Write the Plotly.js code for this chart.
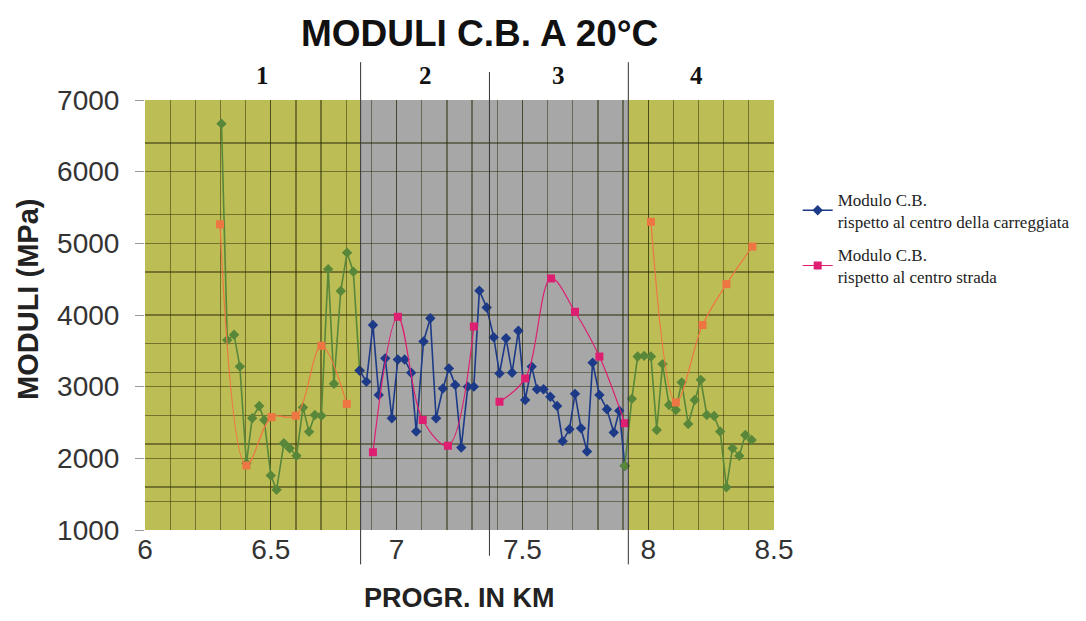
<!DOCTYPE html>
<html>
<head>
<meta charset="utf-8">
<script src="https://cdn.plot.ly/plotly-3.0.1.min.js"></script>
<style>html,body{margin:0;padding:0;background:#fff;}#chart{width:1086px;height:621px;}</style>
</head>
<body>
<div id="chart"></div>
<script>
// ---- data ----
const xCarreggiata = [6.304, 6.327, 6.354, 6.377, 6.403, 6.426, 6.454, 6.474, 6.500, 6.523,
  6.552, 6.575, 6.602, 6.628, 6.652, 6.675, 6.701, 6.728, 6.751, 6.778,
  6.803, 6.828, 6.853, 6.880, 6.906, 6.929, 6.955, 6.981, 7.005, 7.032,
  7.058, 7.078, 7.107, 7.134, 7.157, 7.184, 7.208, 7.233, 7.257, 7.283,
  7.307, 7.329, 7.358, 7.386, 7.409, 7.435, 7.459, 7.484, 7.511, 7.537,
  7.558, 7.584, 7.611, 7.638, 7.660, 7.687, 7.709, 7.733, 7.757, 7.779,
  7.806, 7.836, 7.863, 7.885, 7.907, 7.935, 7.958, 7.984, 8.011, 8.034,
  8.057, 8.083, 8.110, 8.133, 8.159, 8.185, 8.209, 8.233, 8.262, 8.286,
  8.311, 8.335, 8.362, 8.386, 8.411];
const yCarreggiata = [6670, 3650, 3725, 3280, 1930, 2560, 2730, 2535, 1760, 1560,
  2210, 2140, 2035, 2710, 2370, 2605, 2595, 4640, 3040, 4335,
  4870, 4605, 3225, 3070, 3860, 2885, 3395, 2560, 3380, 3380,
  3195, 2375, 3630, 3955, 2560, 2975, 3255, 3025, 2150, 3000,
  3000, 4340, 4105, 3690, 3185, 3675, 3195, 3780, 2815, 3280,
  2965, 2965, 2860, 2730, 2240, 2405, 2900, 2420, 2095, 3335,
  2885, 2685, 2360, 2665, 1895, 2830, 3420, 3430, 3420, 2395,
  3315, 2745, 2675, 3060, 2480, 2815, 3095, 2605, 2590, 2375,
  1595, 2140, 2035, 2325, 2255];

const xStrada = [6.298, 6.403, 6.503, 6.599, 6.701, 6.802,
  6.906, 7.005, 7.104, 7.204, 7.307,
  7.409, 7.511, 7.614, 7.709, 7.806, 7.907,
  8.011, 8.110, 8.216, 8.311, 8.414];
const yStrada = [5265, 1900, 2575, 2595, 3570, 2760,
  2085, 3975, 2535, 2175, 3840,
  2790, 3115, 4510, 4045, 3420, 2490,
  5300, 2780, 3860, 4430, 4955];

const sectionBounds = [6.857, 7.369, 7.921];     // km where sections 1|2, 2|3, 3|4 meet
const sectionNames = ['1', '2', '3', '4'];
const xTickVals = [6, 6.5, 7, 7.5, 8, 8.5];
const xTickText = ['6', '6.5', '7', '7.5', '8', '8.5'];
const yTickVals = [1000, 2000, 3000, 4000, 5000, 6000, 7000];
const yTickText = ['1000', '2000', '3000', '4000', '5000', '6000', '7000'];
const yGridExtra = [1400, 1600, 2200, 2600, 3200, 3600, 4600, 5400, 6400];

const legendCarreggiata = 'Modulo C.B.<br>rispetto al centro della carreggiata';
const legendStrada = 'Modulo C.B.<br>rispetto al centro strada';

// ---- styles ----
const YELLOW = '#bdbd56', GRAY = '#a7a7a7';
const GREEN = 'rgb(88,135,58)', BLUE = 'rgb(28,58,135)';
const ORANGE = 'rgb(238,118,66)', MAGENTA = 'rgb(222,30,112)';
const GRID = 'rgba(35,35,0,0.48)';
const b0 = sectionBounds[0], b1 = sectionBounds[1], b2 = sectionBounds[2];

function sectionOf(x) { let s = 0; sectionBounds.forEach(b => { if (x >= b) s++; }); return s; }

// carreggiata: yellow (sec 1), gray (sec 2-3), yellow (sec 4), drawn as connected pieces
function band(x) { return x < b0 ? 0 : (x < b2 ? 1 : 2); }
const cPieces = [{x: [], y: []}, {x: [], y: []}, {x: [], y: []}];
xCarreggiata.forEach((x, i) => {
  const b = band(x);
  if (b > 0 && cPieces[b].x.length === 0 && i > 0) {
    cPieces[b].x.push(xCarreggiata[i - 1]); cPieces[b].y.push(yCarreggiata[i - 1]);
  }
  cPieces[b].x.push(x); cPieces[b].y.push(yCarreggiata[i]);
});
const traces = [];
cPieces.forEach((p, b) => {
  const col = b === 1 ? BLUE : GREEN;
  traces.push({
    x: p.x, y: p.y, type: 'scatter', mode: 'lines+markers',
    line: {color: col, width: 1.6},
    marker: {color: col, size: 8, symbol: 'diamond'},
    name: legendCarreggiata, legendgroup: 'c', legendrank: 1,
    showlegend: b === 1, hoverinfo: 'x+y'
  });
});
// strada: separate section pieces
const sPieces = [0, 1, 2, 3].map(() => ({x: [], y: []}));
xStrada.forEach((x, i) => { const s = sectionOf(x); sPieces[s].x.push(x); sPieces[s].y.push(yStrada[i]); });
sPieces.forEach((p, s) => {
  const col = (s === 1 || s === 2) ? MAGENTA : ORANGE;
  traces.push({
    x: p.x, y: p.y, type: 'scatter', mode: 'lines+markers',
    line: {color: col, width: 1.2, shape: 'spline', smoothing: 1},
    marker: {color: col, size: 8, symbol: 'square'},
    name: legendStrada, legendgroup: 's', legendrank: 2,
    showlegend: s === 1, hoverinfo: 'x+y'
  });
});

const shapes = [
  {type: 'rect', xref: 'x', yref: 'paper', x0: 6, x1: b0, y0: 0, y1: 1, fillcolor: YELLOW, line: {width: 0}, layer: 'below'},
  {type: 'rect', xref: 'x', yref: 'paper', x0: b0, x1: b2, y0: 0, y1: 1, fillcolor: GRAY, line: {width: 0}, layer: 'below'},
  {type: 'rect', xref: 'x', yref: 'paper', x0: b2, x1: 8.5, y0: 0, y1: 1, fillcolor: YELLOW, line: {width: 0}, layer: 'below'},
  {type: 'line', xref: 'x', yref: 'paper', x0: b0, x1: b0, y0: -0.08, y1: 1.088, line: {color: '#333', width: 1}},
  {type: 'line', xref: 'x', yref: 'paper', x0: b1, x1: b1, y0: -0.06, y1: 1.065, line: {color: '#333', width: 1}},
  {type: 'line', xref: 'x', yref: 'paper', x0: b2, x1: b2, y0: -0.08, y1: 1.088, line: {color: '#333', width: 1}}
];

const labelX = [6.468, (b0 + b1) / 2, (b1 + b2) / 2, 8.19];
const annotations = sectionNames.map((t, i) => ({
  text: '<b>' + t + '</b>', xref: 'x', yref: 'paper', x: labelX[i], y: 1.058,
  showarrow: false, xanchor: 'center', yanchor: 'middle',
  font: {family: 'Liberation Serif, serif', size: 25, color: '#111'}
}));
annotations.push({
  text: '<b>RINFORZO</b>', xref: 'x', yref: 'paper', x: 8.83, y: 1.058,
  showarrow: false, xanchor: 'center', yanchor: 'middle',
  font: {family: 'Liberation Serif, serif', size: 18, color: '#111'}
});
annotations.push({
  text: '<b>MODULI (MPa)</b>', xref: 'paper', yref: 'paper', x: -0.186, y: 0.535,
  textangle: -90, showarrow: false, xanchor: 'center', yanchor: 'middle',
  font: {family: 'Liberation Sans, Arial, sans-serif', size: 29, color: '#222'}
});
annotations.push({
  text: '<b>PROGR. IN KM</b>', xref: 'paper', yref: 'paper', x: 0.5, y: -0.158,
  showarrow: false, xanchor: 'center', yanchor: 'middle',
  font: {family: 'Liberation Sans, Arial, sans-serif', size: 27, color: '#222'}
});

const layout = {
  width: 1086, height: 621,
  margin: {l: 145, r: 311, t: 100, b: 91},
  paper_bgcolor: '#fff', plot_bgcolor: '#fff',
  title: {
    text: '<b>MODULI C.B. A 20°C</b>', xref: 'paper', x: 0.532, xanchor: 'center',
    yref: 'container', y: 0.947, yanchor: 'middle',
    font: {family: 'Liberation Sans, Arial, sans-serif', size: 37, color: '#111'}
  },
  xaxis: {
    range: [6, 8.5], tickmode: 'array', tickvals: xTickVals, ticktext: xTickText,
    ticks: '', showline: false, zeroline: false,
    showgrid: true, gridcolor: GRID, gridwidth: 1.3,
    minor: {tick0: 6, dtick: 0.1, showgrid: true, gridcolor: GRID, gridwidth: 1.3, ticks: ''},
    tickfont: {family: 'Liberation Sans, Arial, sans-serif', size: 28, color: '#333'}
  },
  yaxis: {
    range: [1000, 7000], tickmode: 'array', tickvals: yTickVals, ticktext: yTickText,
    ticks: 'outside', ticklen: 9, tickcolor: '#999', tickwidth: 1,
    ticklabelstandoff: 10,
    showline: false, zeroline: false,
    showgrid: true, gridcolor: GRID, gridwidth: 1.3,
    minor: {tickmode: 'array', tickvals: yGridExtra, showgrid: true, gridcolor: GRID, gridwidth: 1.3, ticks: ''},
    tickfont: {family: 'Liberation Sans, Arial, sans-serif', size: 28, color: '#333'}
  },
  legend: {
    x: 1.036, xanchor: 'left', y: 0.81, yanchor: 'top',
    bgcolor: 'rgba(0,0,0,0)', traceorder: 'grouped', tracegroupgap: 8,
    font: {family: 'Liberation Serif, serif', size: 17, color: '#222'}
  },
  shapes: shapes,
  annotations: annotations,
  showlegend: true
};

Plotly.newPlot('chart', traces, layout, {displayModeBar: false, staticPlot: true});
</script>
</body>
</html>
